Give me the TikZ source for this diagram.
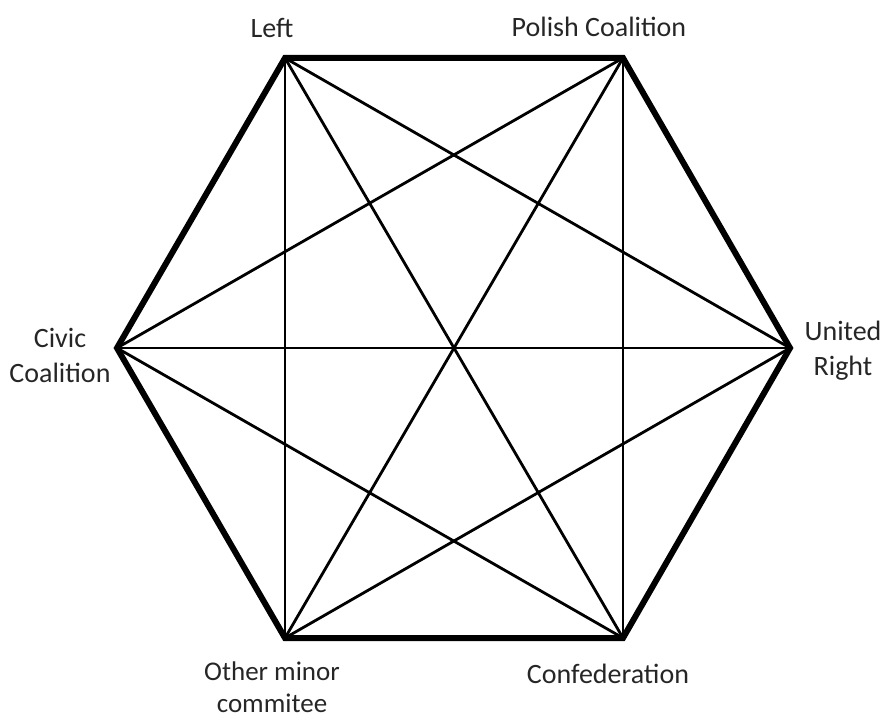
\documentclass[tikz,border=0pt]{standalone}
\usepackage{fontspec}
\setmainfont{Carlito}
\begin{document}
\begin{tikzpicture}[x=1pt,y=-1pt,
  edge/.style={line width=2.8pt},
  side/.style={line width=6pt,line join=miter},
  lbl/.style={font=\fontsize{28}{35}\selectfont,text=black!85,align=center,inner sep=0pt}]
\useasboundingbox (0,0) rectangle (889,722);
\coordinate (L) at (285,58);
\coordinate (P) at (623,58);
\coordinate (U) at (790,348);
\coordinate (C) at (623,638);
\coordinate (O) at (285,638);
\coordinate (V) at (117,348);
\foreach \a/\b in {L/U,L/C,L/O,L/V,P/C,P/O,P/V,U/O,U/V,C/V}
  \draw[edge] (\a) -- (\b);
\draw[side] (L) -- (P) -- (U) -- (C) -- (O) -- (V) -- cycle;
\node[lbl] (tL) at (272,28) {Left};
\node[lbl] (tP) at (599,27) {Polish Coalition};
\node[lbl] (tV) at (60,355) {Civic\\Coalition};
\node[lbl] (tU) at (843,351) {United\\Right};
\node[lbl,font=\fontsize{27}{32}\selectfont] (tO) at (272,687) {Other minor\\commitee};
\node[lbl] (tC) at (608,674) {Confederation};
\end{tikzpicture}
\end{document}
